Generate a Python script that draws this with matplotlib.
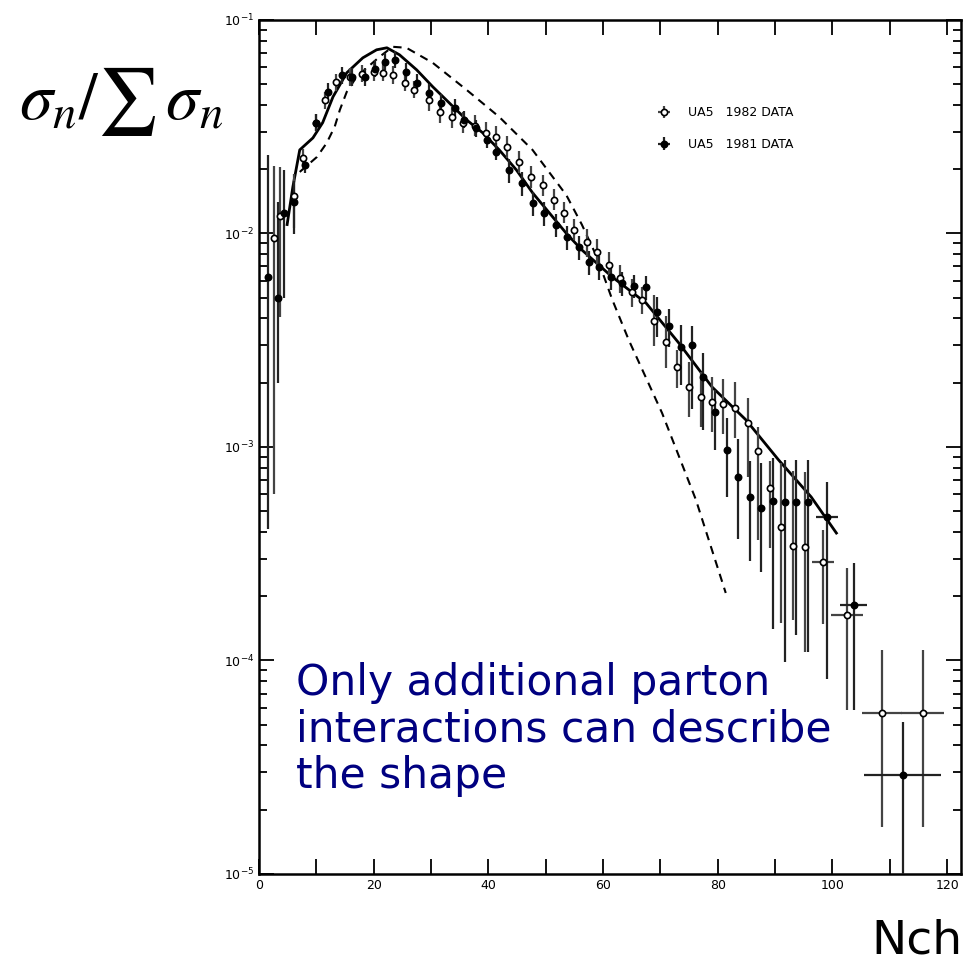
import numpy as np
import matplotlib
matplotlib.use("Agg")
import matplotlib.pyplot as plt
from matplotlib.ticker import FixedLocator, LogLocator, NullFormatter, FuncFormatter

# UA5 1982 data (open circles)
n_82 = [2.6, 3.7, 6.1, 7.7, 10.0, 11.5, 13.5, 15.8, 18.0, 20.0,
        21.6, 23.3, 25.4, 27.1, 29.7, 31.5, 33.6, 35.5, 37.6, 39.6,
        41.4, 43.3, 45.4, 47.5, 49.6, 51.4, 53.2, 55.0, 57.2, 59.0,
        61.0, 63.0, 65.0, 66.8, 68.9, 70.9, 72.9, 75.0, 77.0, 79.0,
        81.0, 83.0, 85.2, 87.0, 89.2, 91.1, 93.2, 95.3, 98.3, 102.5,
        108.6, 115.8]
v_82 = [9.5e-3, 1.2e-2, 1.5e-2, 2.26e-2, 3.3e-2, 4.2e-2, 5.1e-2, 5.4e-2, 5.6e-2, 5.7e-2,
        5.65e-2, 5.52e-2, 5.07e-2, 4.7e-2, 4.22e-2, 3.7e-2, 3.51e-2, 3.3e-2, 3.2e-2, 2.95e-2,
        2.83e-2, 2.54e-2, 2.16e-2, 1.84e-2, 1.68e-2, 1.44e-2, 1.25e-2, 1.04e-2, 9.1e-3, 8.2e-3,
        7.1e-3, 6.2e-3, 5.3e-3, 4.9e-3, 3.9e-3, 3.1e-3, 2.37e-3, 1.9e-3, 1.71e-3, 1.62e-3,
        1.58e-3, 1.52e-3, 1.29e-3, 9.6e-4, 6.4e-4, 4.2e-4, 3.45e-4, 3.4e-4, 2.9e-4, 1.63e-4,
        5.7e-5, 5.7e-5]
# error bar extent in decades (up / down)
up_82 = [0.34, 0.23, 0.1, 0.04, 0.04, 0.04, 0.04, 0.04, 0.04, 0.04,
         0.04, 0.04, 0.04, 0.04, 0.05, 0.05, 0.05, 0.05, 0.05, 0.05,
         0.05, 0.05, 0.05, 0.05, 0.05, 0.05, 0.05, 0.05, 0.06, 0.06,
         0.06, 0.06, 0.06, 0.06, 0.12, 0.12, 0.08, 0.12, 0.12, 0.12,
         0.12, 0.12, 0.12, 0.11, 0.13, 0.3, 0.35, 0.35, 0.15, 0.22,
         0.295, 0.295]
dn_82 = [1.2, 0.47, 0.15, 0.04, 0.04, 0.04, 0.04, 0.04, 0.04, 0.04,
         0.04, 0.04, 0.04, 0.04, 0.05, 0.05, 0.05, 0.05, 0.05, 0.05,
         0.05, 0.05, 0.05, 0.05, 0.05, 0.05, 0.05, 0.05, 0.07, 0.07,
         0.07, 0.07, 0.07, 0.07, 0.12, 0.12, 0.10, 0.14, 0.14, 0.14,
         0.14, 0.14, 0.25, 0.42, 0.28, 0.45, 0.35, 0.49, 0.29, 0.445,
         0.534, 0.534]
xerr_82 = [0] * 48 + [1.9, 2.8, 3.5, 3.75]

# UA5 1981 data (filled circles)
n_81 = [1.6, 3.3, 4.3, 6.1, 8.0, 10.0, 12.0, 14.5, 16.2, 18.4,
        20.2, 22.0, 23.7, 25.7, 27.5, 29.7, 31.8, 34.1, 35.8, 37.9,
        39.7, 41.4, 43.6, 45.9, 47.7, 49.7, 51.8, 53.7, 55.8, 57.6,
        59.3, 61.4, 63.3, 65.4, 67.5, 69.4, 71.5, 73.6, 75.5, 77.4,
        79.6, 81.6, 83.5, 85.7, 87.5, 89.6, 91.8, 93.6, 95.7, 99.1,
        103.7, 112.3]
v_81 = [6.25e-3, 5.0e-3, 1.25e-2, 1.4e-2, 2.1e-2, 3.3e-2, 4.6e-2, 5.5e-2, 5.4e-2, 5.4e-2,
        5.9e-2, 6.36e-2, 6.5e-2, 5.71e-2, 5.07e-2, 4.55e-2, 4.08e-2, 3.87e-2, 3.4e-2, 3.1e-2,
        2.74e-2, 2.41e-2, 1.98e-2, 1.72e-2, 1.39e-2, 1.25e-2, 1.1e-2, 9.64e-3, 8.65e-3, 7.36e-3,
        6.97e-3, 6.25e-3, 5.86e-3, 5.7e-3, 5.6e-3, 4.3e-3, 3.7e-3, 2.95e-3, 3.0e-3, 2.13e-3,
        1.46e-3, 9.7e-4, 7.2e-4, 5.8e-4, 5.2e-4, 5.6e-4, 5.5e-4, 5.5e-4, 5.5e-4, 4.7e-4,
        1.82e-4, 2.9e-5]
up_81 = [0.57, 0.45, 0.2, 0.1, 0.04, 0.04, 0.04, 0.04, 0.04, 0.04,
         0.04, 0.04, 0.04, 0.04, 0.04, 0.04, 0.04, 0.04, 0.04, 0.04,
         0.04, 0.04, 0.05, 0.05, 0.05, 0.05, 0.05, 0.05, 0.05, 0.05,
         0.05, 0.05, 0.05, 0.05, 0.05, 0.07, 0.08, 0.1, 0.09, 0.11,
         0.1, 0.15, 0.18, 0.17, 0.21, 0.2, 0.2, 0.2, 0.2, 0.164,
         0.197, 0.25]
dn_81 = [1.18, 0.4, 0.4, 0.15, 0.04, 0.04, 0.04, 0.04, 0.04, 0.04,
         0.04, 0.04, 0.04, 0.04, 0.04, 0.04, 0.04, 0.04, 0.04, 0.04,
         0.04, 0.04, 0.06, 0.06, 0.06, 0.06, 0.06, 0.06, 0.06, 0.06,
         0.06, 0.06, 0.06, 0.06, 0.06, 0.12, 0.1, 0.18, 0.3, 0.25,
         0.18, 0.22, 0.29, 0.3, 0.3, 0.6, 0.75, 0.62, 0.7, 0.76,
         0.49, 2.0]
xerr_81 = [0] * 49 + [1.9, 2.4, 6.7]

# model curves
solid_n = [4.9, 5.9, 7.1, 9.4, 11.1, 12.9, 15.3, 18.1, 20.5, 22.3,
           24.5, 27.5, 30.3, 33.2, 36.2, 39.0, 41.9, 44.9, 47.7, 50.6,
           53.6, 56.3, 61.6, 67.5, 73.2, 79.0, 84.9, 90.6, 96.3, 100.7]
solid_v = [0.011, 0.0165, 0.0246, 0.028, 0.033, 0.0436, 0.0565, 0.0664, 0.0724, 0.074,
           0.0686, 0.0583, 0.0486, 0.0408, 0.034, 0.0296, 0.0246, 0.0198, 0.0155, 0.0125,
           0.0100, 0.00837, 0.00625, 0.00472, 0.00307, 0.00191, 0.00134, 8.7e-4, 5.83e-4, 3.95e-4]
dashed_n = [7.1, 10.1, 11.8, 13.2, 14.1, 15.3, 17.0, 18.8, 21.0, 23.3,
            25.7, 30.3, 36.2, 41.9, 47.7, 53.6, 56.3, 59.0, 61.6, 64.5,
            70.3, 76.2, 81.4]
dashed_v = [0.0194, 0.0228, 0.0265, 0.0316, 0.0379, 0.046, 0.054, 0.0596, 0.0671, 0.0748,
            0.074, 0.0629, 0.047, 0.0351, 0.0246, 0.0151, 0.011, 0.00767, 0.0049, 0.00316,
            0.00144, 5.65e-4, 2.07e-4]


def asym_err(v, up, dn):
    v = np.array(v)
    return [v - v * 10 ** (-np.array(dn)), v * 10 ** np.array(up) - v]


plt.rcParams["mathtext.fontset"] = "stix"

fig = plt.figure(figsize=(9.64, 9.64), dpi=100)
ax = fig.add_axes([0.2687, 0.0934, 0.728, 0.886])

ax.plot(solid_n, solid_v, color="black", lw=2.0)
ax.plot(dashed_n, dashed_v, color="black", lw=1.5, dashes=(4, 3))

e82 = ax.errorbar(n_82, v_82, yerr=asym_err(v_82, up_82, dn_82), xerr=xerr_82,
                  fmt="o", ms=4.5, mfc="white", mec="black", mew=1.2,
                  ecolor="#444444", elinewidth=1.6, capsize=0, zorder=3)
e81 = ax.errorbar(n_81, v_81, yerr=asym_err(v_81, up_81, dn_81), xerr=xerr_81,
                  fmt="o", ms=4.5, mfc="black", mec="black", mew=1.2,
                  ecolor="#222222", elinewidth=1.6, capsize=0, zorder=3)

ax.set_yscale("log")
ax.set_xlim(0, 122.4)
ax.set_ylim(1e-5, 1e-1)

ax.xaxis.set_major_locator(FixedLocator(np.arange(0, 130, 10)))
ax.xaxis.set_major_formatter(FuncFormatter(lambda x, p: f"{int(x)}" if int(x) % 20 == 0 else ""))
ax.yaxis.set_major_locator(LogLocator(base=10))
ax.yaxis.set_minor_locator(LogLocator(base=10, subs=np.arange(2, 10)))
ax.yaxis.set_minor_formatter(NullFormatter())

ax.tick_params(which="both", direction="in", top=True, right=True, width=1.3, labelsize=9)
ax.tick_params(which="major", length=11)
ax.tick_params(which="minor", length=6)
for s in ax.spines.values():
    s.set_linewidth(1.8)

ax.legend([e82, e81], ["UA5   1982 DATA", "UA5   1981 DATA"], loc="upper left",
          bbox_to_anchor=(0.55, 0.912), frameon=False, fontsize=9,
          handlelength=1.2, handletextpad=1.3, labelspacing=1.5)

ax.text(0.053, 0.248, "Only additional parton\ninteractions can describe\nthe shape",
        transform=ax.transAxes, color="#000080", fontsize=30.5, linespacing=1.14,
        va="top", ha="left")

fig.text(0.02, 0.895, r"$\sigma_n/\sum\,\sigma_n$", fontsize=48, ha="left", va="center")
fig.text(0.998, 0.0, "Nch", fontsize=34, ha="right", va="bottom")

fig.savefig("out.png", dpi=100)
